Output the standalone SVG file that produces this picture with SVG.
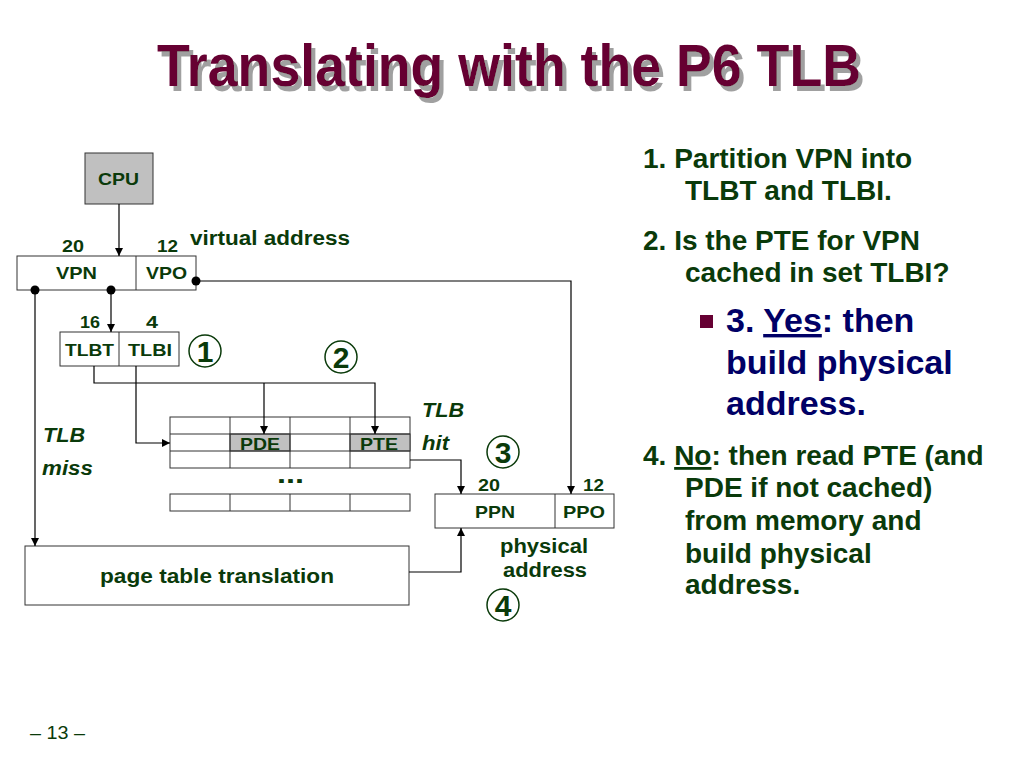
<svg xmlns="http://www.w3.org/2000/svg" width="1024" height="768" viewBox="0 0 1024 768">
<defs>
<marker id="arr" viewBox="0 0 10 10" refX="10" refY="5" markerWidth="8" markerHeight="8" markerUnits="userSpaceOnUse" orient="auto"><path d="M0,0 L10,5 L0,10 z" fill="#000"/></marker>
<filter id="shadow" x="-5%" y="-20%" width="110%" height="140%">
<feOffset in="SourceAlpha" dx="4" dy="5" result="o"/>
<feFlood flood-color="#a0a0a0"/>
<feComposite in2="o" operator="in" result="s"/>
<feMerge><feMergeNode in="s"/><feMergeNode in="SourceGraphic"/></feMerge>
</filter>
<style>
.t{font-family:"Liberation Sans",Arial,sans-serif;font-weight:bold;fill:#0a3a0a}
.box{fill:#fff;stroke:#333;stroke-width:1}
.gray{fill:#c0c0c0;stroke:#333;stroke-width:1}
.ln{fill:none;stroke:#000;stroke-width:1.2}
.circ{fill:none;stroke:#0a3a0a;stroke-width:1.5}
.it{font-style:italic}
.s{font-size:17px}
.d{font-size:30px}
.n{font-size:28px}
.b{font-size:34px;fill:#000066}
</style>
</defs>
<rect width="1024" height="768" fill="#fff"/>
<g id="title">
<text x="157" y="86" font-family="'Liberation Sans',Arial,sans-serif" font-weight="bold" font-size="59" fill="#660033" textLength="704" lengthAdjust="spacingAndGlyphs" filter="url(#shadow)">Translating with the P6 TLB</text>
</g>
<g id="cpu"><rect class="gray" x="85" y="153" width="68" height="51"/><text class="t s" x="98" y="185" textLength="41" lengthAdjust="spacingAndGlyphs">CPU</text></g>
<g id="vaddr">
<rect class="box" x="17" y="256" width="179" height="34"/><line x1="136" y1="256" x2="136" y2="290" stroke="#333"/>
<text class="t s" x="56" y="279" textLength="41" lengthAdjust="spacingAndGlyphs">VPN</text>
<text class="t s" x="146" y="279" textLength="41" lengthAdjust="spacingAndGlyphs">VPO</text>
<text class="t s" x="62" y="252" textLength="22" lengthAdjust="spacingAndGlyphs">20</text>
<text class="t s" x="157" y="252" textLength="21" lengthAdjust="spacingAndGlyphs">12</text>
<text class="t" x="190" y="245" font-size="20" textLength="160" lengthAdjust="spacingAndGlyphs">virtual address</text>
</g>
<g id="tlbidx">
<rect class="box" x="60" y="332" width="119" height="34"/><line x1="119" y1="332" x2="119" y2="366" stroke="#333"/>
<text class="t s" x="65" y="356" textLength="49" lengthAdjust="spacingAndGlyphs">TLBT</text>
<text class="t s" x="128" y="356" textLength="44" lengthAdjust="spacingAndGlyphs">TLBI</text>
<text class="t s" x="80" y="328" textLength="20" lengthAdjust="spacingAndGlyphs">16</text>
<text class="t s" x="146" y="328" textLength="12" lengthAdjust="spacingAndGlyphs">4</text>
</g>
<g id="tlb">
<rect class="box" x="170" y="417" width="240" height="51"/>
<rect class="gray" x="230" y="434" width="60" height="17"/>
<rect class="gray" x="350" y="434" width="60" height="17"/>
<path d="M170,434H410M170,451H410M230,417V468M290,417V468M350,417V468" stroke="#333" fill="none"/>
<text class="t s" x="240" y="450" textLength="40" lengthAdjust="spacingAndGlyphs">PDE</text>
<text class="t s" x="360" y="450" textLength="38" lengthAdjust="spacingAndGlyphs">PTE</text>
<text class="t" x="277" y="483" font-size="26" textLength="27" lengthAdjust="spacingAndGlyphs">...</text>
<rect class="box" x="170" y="494" width="240" height="17"/>
<path d="M230,494V511M290,494V511M350,494V511" stroke="#333" fill="none"/>
</g>
<g id="paddr">
<rect class="box" x="435" y="494" width="179" height="34"/><line x1="555" y1="494" x2="555" y2="528" stroke="#333"/>
<text class="t s" x="475" y="518" textLength="40" lengthAdjust="spacingAndGlyphs">PPN</text>
<text class="t s" x="563" y="518" textLength="42" lengthAdjust="spacingAndGlyphs">PPO</text>
<text class="t s" x="478" y="491" textLength="22" lengthAdjust="spacingAndGlyphs">20</text>
<text class="t s" x="583" y="491" textLength="21" lengthAdjust="spacingAndGlyphs">12</text>
<text class="t" x="500" y="553" font-size="20" textLength="88" lengthAdjust="spacingAndGlyphs">physical</text>
<text class="t" x="503" y="577" font-size="20" textLength="84" lengthAdjust="spacingAndGlyphs">address</text>
</g>
<g id="ptt"><rect class="box" x="25" y="546" width="384" height="59"/><text class="t" x="100" y="583" font-size="20" textLength="234" lengthAdjust="spacingAndGlyphs">page table translation</text></g>
<g id="labels">
<text class="t it" x="43" y="442" font-size="20" textLength="42" lengthAdjust="spacingAndGlyphs">TLB</text>
<text class="t it" x="42" y="475" font-size="20" textLength="51" lengthAdjust="spacingAndGlyphs">miss</text>
<text class="t it" x="422" y="417" font-size="20" textLength="42" lengthAdjust="spacingAndGlyphs">TLB</text>
<text class="t it" x="422" y="450" font-size="20" textLength="27" lengthAdjust="spacingAndGlyphs">hit</text>
</g>
<g id="steps">
<circle class="circ" cx="205" cy="351" r="16"/><text class="t d" x="205" y="362" text-anchor="middle">1</text>
<circle class="circ" cx="341" cy="357" r="16"/><text class="t d" x="341" y="368" text-anchor="middle">2</text>
<circle class="circ" cx="503" cy="452" r="16"/><text class="t d" x="503" y="463" text-anchor="middle">3</text>
<circle class="circ" cx="503" cy="605" r="16"/><text class="t d" x="503" y="616" text-anchor="middle">4</text>
</g>
<g id="connectors">
<line class="ln" x1="119" y1="204" x2="119" y2="256" marker-end="url(#arr)"/>
<path class="ln" d="M111,290V332" marker-end="url(#arr)"/>
<path class="ln" d="M35,290V546" marker-end="url(#arr)"/>
<path class="ln" d="M196,281H571V494" marker-end="url(#arr)"/>
<path class="ln" d="M94,366V383H375V434" marker-end="url(#arr)"/>
<path class="ln" d="M264,383V434" marker-end="url(#arr)"/>
<path class="ln" d="M136,366V443H170" marker-end="url(#arr)"/>
<path class="ln" d="M410,460H461V494" marker-end="url(#arr)"/>
<path class="ln" d="M409,572H461V528" marker-end="url(#arr)"/>
<circle cx="35" cy="290" r="4.5"/><circle cx="111" cy="290" r="4.5"/><circle cx="196" cy="281" r="4.5"/>
</g>
<g id="notes" class="t">
<text class="n" x="643" y="168">1. Partition VPN into</text>
<text class="n" x="685" y="200">TLBT and TLBI.</text>
<text class="n" x="643" y="250">2. Is the PTE for VPN</text>
<text class="n" x="685" y="282">cached in set TLBI?</text>
<rect x="700" y="315" width="13" height="13" fill="#660033"/>
<text class="b" x="726" y="332">3. <tspan text-decoration="underline">Yes</tspan>: then</text>
<text class="b" x="726" y="374">build physical</text>
<text class="b" x="726" y="415">address.</text>
<text class="n" x="643" y="465">4. <tspan text-decoration="underline">No</tspan>: then read PTE (and</text>
<text class="n" x="685" y="497">PDE if not cached)</text>
<text class="n" x="685" y="530">from memory and</text>
<text class="n" x="685" y="563">build physical</text>
<text class="n" x="685" y="594">address.</text>
</g>
<text x="30" y="739" font-family="'Liberation Sans',Arial,sans-serif" font-size="18" fill="#0a3a0a" textLength="55" lengthAdjust="spacingAndGlyphs">– 13 –</text>
</svg>
